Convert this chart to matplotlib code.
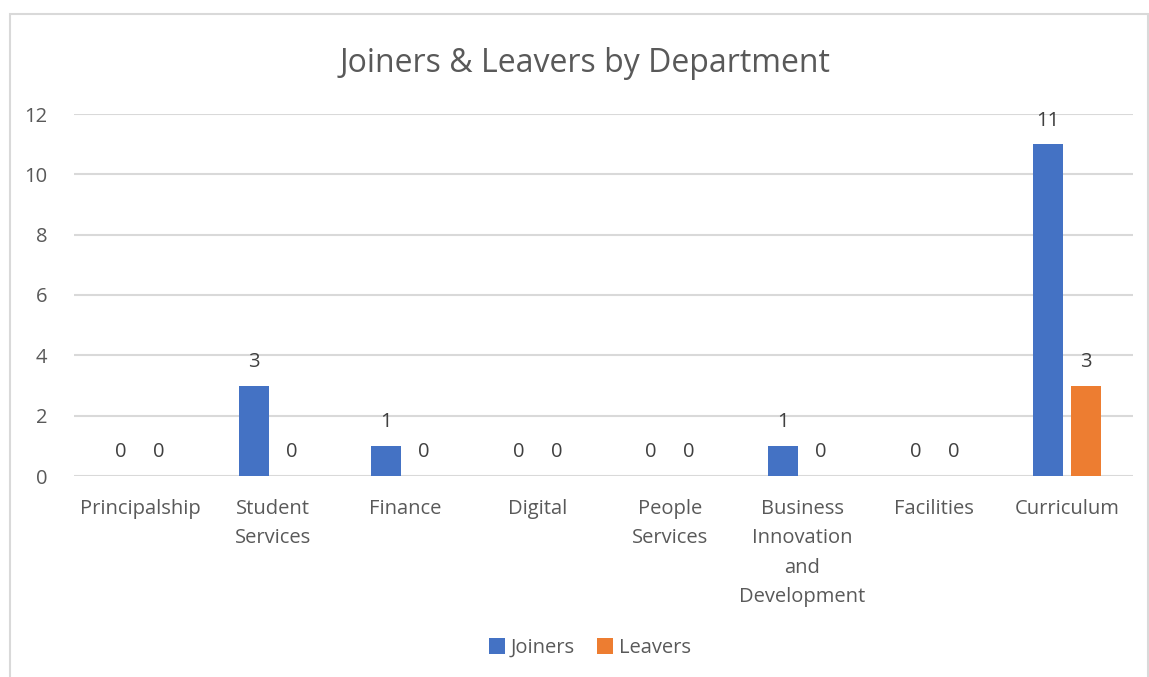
import numpy as np
import matplotlib.pyplot as plt
from matplotlib.patches import Rectangle

departments = ["Principalship", "Student\nServices", "Finance", "Digital",
               "People\nServices", "Business\nInnovation\nand\nDevelopment",
               "Facilities", "Curriculum"]
joiners = [0, 3, 1, 0, 0, 1, 0, 11]
leavers = [0, 0, 0, 0, 0, 0, 0, 3]
y_ticks = [0, 2, 4, 6, 8, 10, 12]

plt.rcParams['font.family'] = ['Open Sans', 'DejaVu Sans']
text_color = '#595959'

fig = plt.figure(figsize=(11.49, 6.77), dpi=100)
fig.patches.append(Rectangle((10 / 1149, -0.1), 1138 / 1149, 1.1 - 14 / 677,
                             transform=fig.transFigure, fill=False,
                             edgecolor='#d9d9d9', linewidth=1.5))

ax = fig.add_axes([74 / 1149, 1 - 476 / 677, 1059 / 1149, 362 / 677])
x = np.arange(len(departments))
w = 0.227
off = 0.1435
b1 = ax.bar(x - off, joiners, w, color='#4472c4', label='Joiners')
b2 = ax.bar(x + off, leavers, w, color='#ed7d31', label='Leavers')

for bars, vals in [(b1, joiners), (b2, leavers)]:
    for bar, v in zip(bars, vals):
        ax.annotate(str(v), (bar.get_x() + bar.get_width() / 2, v),
                    xytext=(0, 17), textcoords='offset points',
                    ha='center', va='center', fontsize=14.5, color='#404040')

ax.set_xlim(-0.5, len(departments) - 0.5)
ax.set_ylim(0, 12)
ax.set_yticks(y_ticks)
ax.set_xticks(x)
ax.set_xticklabels(departments, linespacing=1.62)
ax.tick_params(axis='both', length=0, labelsize=14.5, colors=text_color)
ax.tick_params(axis='x', pad=16.5)
ax.tick_params(axis='y', pad=19)
ax.grid(axis='y', color='#d9d9d9', linewidth=1.5)
ax.set_axisbelow(True)
for s in ax.spines.values():
    s.set_visible(False)

fig.text(585 / 1149, 1 - 63 / 677, "Joiners & Leavers by Department",
         ha='center', va='center', fontsize=23, color=text_color)

fig.legend(loc='center', bbox_to_anchor=(590 / 1149, 1 - 648 / 677), ncol=2,
           frameon=False, fontsize=14.5, labelcolor=text_color,
           handlelength=0.8, handleheight=0.8, handletextpad=0.3,
           columnspacing=1.1)

fig.savefig('out.png', dpi=100)
